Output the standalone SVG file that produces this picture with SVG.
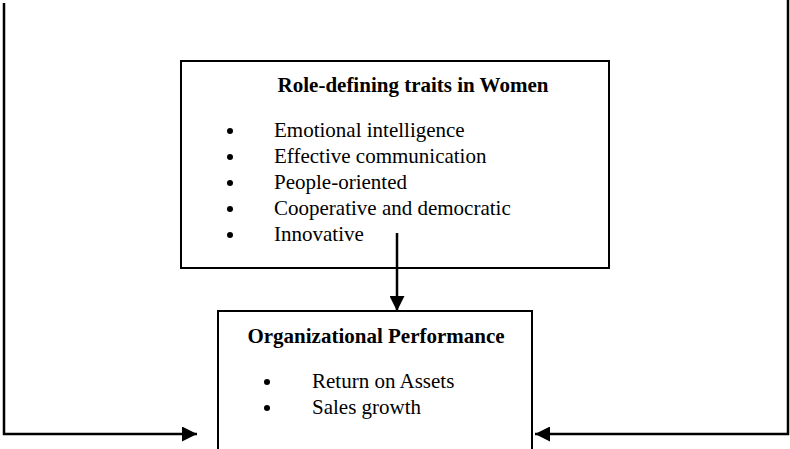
<svg xmlns="http://www.w3.org/2000/svg" width="790" height="449" viewBox="0 0 790 449">
  <style>
    .box { fill: #fff; stroke: #000; stroke-width: 2; }
    .line { fill: none; stroke: #000; stroke-width: 2.5; }
    .title { font-family: "Liberation Serif", "Times New Roman", serif; font-size: 21px; font-weight: bold; fill: #000; }
    .item { font-family: "Liberation Serif", "Times New Roman", serif; font-size: 21px; fill: #000; }
    .dot { fill: #000; }
  </style>
  <defs>
    <marker id="arrow" viewBox="0 0 15 15" refX="15" refY="7.5" markerWidth="15" markerHeight="15" markerUnits="userSpaceOnUse" orient="auto">
      <path d="M0,0 L15,7.5 L0,15 Z" fill="#000"/>
    </marker>
  </defs>

  <rect width="790" height="449" fill="#fff"/>

  <g id="traits">
    <rect class="box" x="181" y="61" width="428" height="207"/>
    <text class="title" x="413" y="92" text-anchor="middle">Role-defining traits in Women</text>
    <circle class="dot" cx="230" cy="131" r="3"/>
    <circle class="dot" cx="230" cy="157" r="3"/>
    <circle class="dot" cx="230" cy="183" r="3"/>
    <circle class="dot" cx="230" cy="209" r="3"/>
    <circle class="dot" cx="230" cy="235" r="3"/>
    <text class="item" x="274" y="137">Emotional intelligence</text>
    <text class="item" x="274" y="163">Effective communication</text>
    <text class="item" x="274" y="189">People-oriented</text>
    <text class="item" x="274" y="215">Cooperative and democratic</text>
    <text class="item" x="274" y="241">Innovative</text>
  </g>

  <g id="performance">
    <rect class="box" x="218" y="311" width="314" height="150"/>
    <text class="title" x="376" y="343" text-anchor="middle">Organizational Performance</text>
    <circle class="dot" cx="267" cy="382" r="3"/>
    <circle class="dot" cx="267" cy="408" r="3"/>
    <text class="item" x="312" y="388">Return on Assets</text>
    <text class="item" x="312" y="414">Sales growth</text>
  </g>

  <g id="connectors">
    <line class="line" x1="397" y1="233" x2="397" y2="311" marker-end="url(#arrow)"/>
    <polyline class="line" points="4,3 4,434 197,434" marker-end="url(#arrow)"/>
    <polyline class="line" points="788,0 788,434 535,434" marker-end="url(#arrow)"/>
  </g>
</svg>
